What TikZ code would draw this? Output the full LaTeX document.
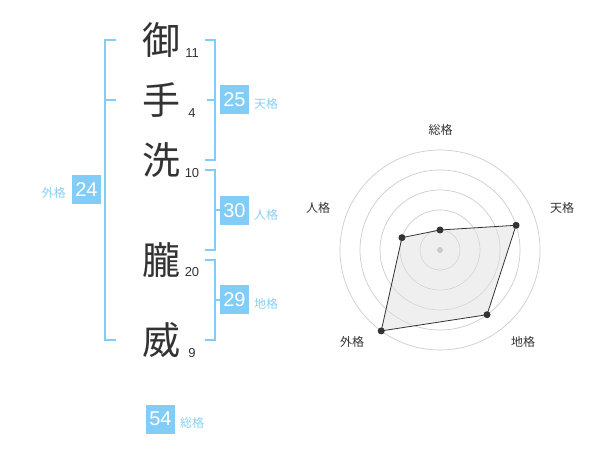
\documentclass[tikz,border=0pt]{standalone}
\usepackage{fontspec}
\setmainfont{Liberation Sans}
\newfontfamily\cjk{Noto Sans CJK JP}
\definecolor{lblue}{HTML}{82CDF7}
\definecolor{ltext}{HTML}{88CFF5}
\definecolor{dk}{HTML}{333333}
\definecolor{ring}{HTML}{CCCCCC}
\begin{document}
\begin{tikzpicture}[x=1pt,y=-1pt,
  kanji/.style={font=\cjk\fontsize{38}{40}\selectfont,text=dk,inner sep=0pt},
  strokes/.style={font=\fontsize{13}{14}\selectfont,text=dk,inner sep=0pt},
  valbox/.style={fill=lblue,text=white,minimum width=29pt,minimum height=29pt,inner sep=0pt,font=\fontsize{20}{22}\selectfont},
  kaku/.style={font=\cjk\fontsize{12}{13}\selectfont,text=ltext,inner sep=0pt},
  brk/.style={draw=lblue,line width=2pt},
  rlabel/.style={font=\cjk\fontsize{12}{13}\selectfont,text=dk,inner sep=0pt},
  dot/.style={circle,fill=dk,inner sep=0pt,minimum size=7pt}]
\useasboundingbox (0,0) rectangle (600,470);
% kanji
\node[kanji] (k1) at (161,40) {御};
\node[kanji] (k2) at (161,100) {手};
\node[kanji] (k3) at (161,160) {洗};
\node[kanji] (k4) at (161,260) {朧};
\node[kanji] (k5) at (161,340) {威};
% stroke counts
\node[strokes] (n1) at (192,53) {11};
\node[strokes] (n2) at (192,113) {4};
\node[strokes] (n3) at (192,173) {10};
\node[strokes] (n4) at (192,272) {20};
\node[strokes] (n5) at (192,353) {9};
% brackets
\draw[brk] (116,40) -- (105,40) -- (105,340) -- (116,340);
\draw[brk] (105,100) -- (116,100);
\draw[brk] (205,40) -- (215,40) -- (215,160) -- (205,160);
\draw[brk] (207,100) -- (215,100);
\draw[brk] (205,170) -- (215,170) -- (215,250) -- (205,250);
\draw[brk] (215,210) -- (222,210);
\draw[brk] (205,260) -- (215,260) -- (215,340) -- (205,340);
\draw[brk] (215,300) -- (222,300);
% value boxes
\node[valbox] (b25) at (234.5,100) {25};
\node[kaku,anchor=west] (t25) at (254,104) {天格};
\node[valbox] (b30) at (234.5,211) {30};
\node[kaku,anchor=west] (t30) at (254,215) {人格};
\node[valbox] (b29) at (234.5,300) {29};
\node[kaku,anchor=west] (t29) at (254,304) {地格};
\node[valbox] (b24) at (86.5,190) {24};
\node[kaku,anchor=east] (t24) at (66,193) {外格};
\node[valbox] (b54) at (160.5,419) {54};
\node[kaku,anchor=west] (t54) at (180,423) {総格};
% radar
\begin{scope}[shift={(440,250)},yscale=-1]
  \foreach \r in {20,40,60,80,100} \draw[ring,line width=0.7pt] (0,0) circle (\r);
  \coordinate (p1) at (90:20);
  \coordinate (p2) at (18:80);
  \coordinate (p3) at (-54:80);
  \coordinate (p4) at (-126:100);
  \coordinate (p5) at (162:40);
  \fill[black!12,opacity=0.5] (p1) -- (p2) -- (p3) -- (p4) -- (p5) -- cycle;
  \draw[dk,line width=0.8pt] (p1) -- (p2) -- (p3) -- (p4) -- (p5) -- cycle;
  \node[circle,fill=ring,inner sep=0pt,minimum size=6pt] (c0) at (0,0) {};
  \foreach \p in {p1,p2,p3,p4,p5} \node[dot] at (\p) {};
\end{scope}
\node[rlabel] (r1) at (440.7,130) {総格};
\node[rlabel] (r2) at (562,208) {天格};
\node[rlabel] (r3) at (523,342) {地格};
\node[rlabel] (r4) at (352,342) {外格};
\node[rlabel] (r5) at (318,208) {人格};
\end{tikzpicture}
\end{document}
